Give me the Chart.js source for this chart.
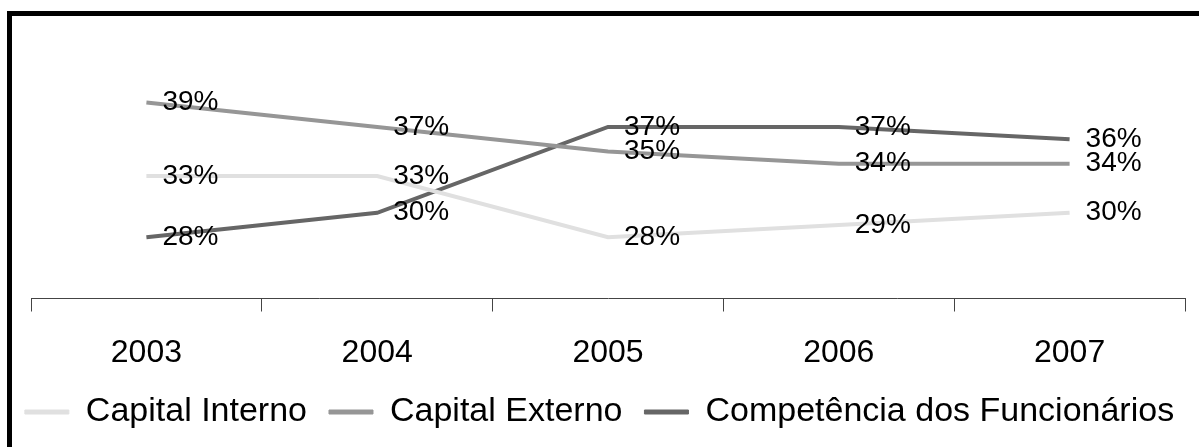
<!DOCTYPE html>
<html>
<head>
<meta charset="utf-8">
<script src="https://cdn.jsdelivr.net/npm/chart.js@4.4.1/dist/chart.umd.min.js"></script>
<style>
  html, body { margin: 0; padding: 0; background: #ffffff; overflow: hidden; }
  #wrap { position: relative; width: 1199px; height: 447px; }
  #frame { position: absolute; left: 7px; top: 11px; width: 1300px; height: 600px;
           border-top: 5px solid #000; border-left: 5px solid #000; box-sizing: border-box; }
  canvas { position: absolute; left: 0; top: 0; }
</style>
</head>
<body>
<div id="wrap">
  <div id="frame"></div>
  <canvas id="c" width="1199" height="447"></canvas>
</div>
<script>
const categories = ['2003', '2004', '2005', '2006', '2007'];
const capitalInterno = [33, 33, 28, 29, 30];
const capitalExterno = [39, 37, 35, 34, 34];
const competencia = [28, 30, 37, 37, 36];
const seriesNames = ['Capital Interno', 'Capital Externo', 'Competência dos Funcionários'];
const seriesColors = ['#e0e0e0', '#969696', '#666666'];

const FONT = "'Liberation Sans', Arial, sans-serif";

const pointLabels = {
  id: 'pointLabels',
  afterDatasetsDraw(chart) {
    const ctx = chart.ctx;
    ctx.save();
    ctx.font = "28px " + FONT;
    ctx.fillStyle = '#000';
    ctx.textAlign = 'left';
    ctx.textBaseline = 'middle';
    chart.data.datasets.forEach((ds, i) => {
      const meta = chart.getDatasetMeta(i);
      meta.data.forEach((pt, j) => {
        ctx.fillText(ds.data[j] + '%', pt.x + 16, pt.y);
      });
    });
    ctx.restore();
  }
};

const allSeries = [capitalInterno, capitalExterno, competencia];

const hiddenAxis = (pos, w) => ({
  type: 'linear',
  position: pos,
  display: true,
  min: 23,
  max: 45,
  grid: { display: false, drawTicks: false },
  border: { display: false },
  ticks: { display: false },
  afterFit(s) { s.width = w; }
});

new Chart(document.getElementById('c'), {
  type: 'line',
  data: {
    labels: categories,
    datasets: allSeries.map((d, i) => ({
      label: seriesNames[i],
      data: d,
      yAxisID: 'y',
      borderColor: seriesColors[i],
      backgroundColor: seriesColors[i],
      borderWidth: 4,
      pointRadius: 0,
      tension: 0,
      fill: false
    }))
  },
  options: {
    responsive: false,
    animation: false,
    devicePixelRatio: 1,
    layout: { padding: { left: 0, right: 0, top: 29, bottom: 8 } },
    plugins: {
      tooltip: { enabled: false },
      legend: {
        position: 'bottom',
        align: 'center',
        labels: {
          boxWidth: 44,
          boxHeight: 4,
          padding: 22,
          color: '#000',
          font: { family: FONT, size: 34 },
          generateLabels(chart) {
            return chart.data.datasets.map((ds, i) => ({
              text: ds.label,
              fillStyle: ds.borderColor,
              strokeStyle: ds.borderColor,
              lineWidth: 1,
              hidden: false,
              datasetIndex: i
            }));
          }
        }
      }
    },
    scales: {
      x: {
        type: 'category',
        offset: true,
        grid: { offset: true, drawOnChartArea: false, drawTicks: true, tickLength: 13, color: '#444', lineWidth: 1 },
        border: { display: true, color: '#444', width: 1 },
        ticks: { color: '#000', font: { family: FONT, size: 32 }, padding: 22, maxRotation: 0, autoSkip: false },
        afterFit(s) { s.height = 74.5; }
      },
      y: hiddenAxis('left', 31),
      y2: hiddenAxis('right', 14)
    }
  },
  plugins: [pointLabels]
});
</script>
</body>
</html>
